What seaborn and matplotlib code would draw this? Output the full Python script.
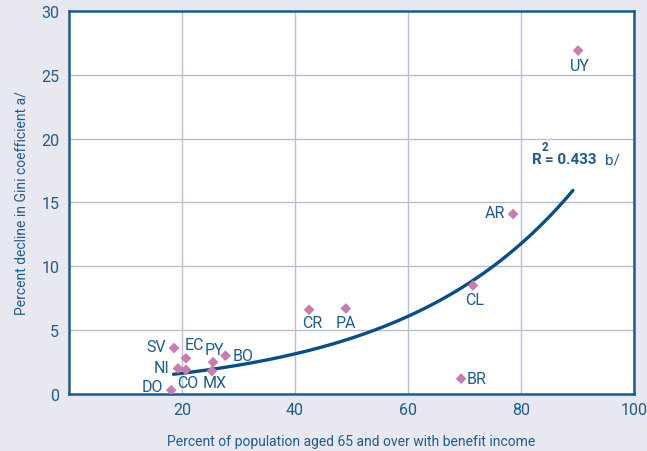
import numpy as np
import matplotlib
matplotlib.use("Agg")
import matplotlib.pyplot as plt
import pandas as pd
import seaborn as sns

# country codes with coverage (x) and Gini decline (y)
countries = ["UY", "AR", "CL", "BR", "CR", "PA", "SV", "EC", "PY", "BO", "NI", "CO", "MX", "DO"]
coverage = [90.1, 78.6, 71.5, 69.4, 42.5, 49.0, 18.6, 20.7, 25.5, 27.7, 19.3, 20.7, 25.3, 18.1]
gini_decline = [26.9, 14.1, 8.5, 1.2, 6.6, 6.7, 3.6, 2.8, 2.5, 3.0, 2.0, 1.9, 1.8, 0.3]

# label offsets (points) and alignment per country
label_dx = [1, -6, 1, 4, 2, 0, -6, -1, 1, 5, -6, 1, 2, -6]
label_dy = [-11, 1, -10, 0, -9, -10, 1, 10, 9, 0, 1, -9, -8, 3]
label_ha = ["center", "right", "center", "left", "center", "center", "right",
            "left", "center", "left", "right", "center", "center", "right"]

# exponential trend
trend_a = 0.84
trend_b = 0.0330
trend_range = (18.5, 89.2)
r_squared = 0.433

BG = "#E8E9F0"
BLUE = "#1E5B8E"
NAVY = "#0B4E85"
PINK = "#C77DAF"
GRID = "#B9BDD5"

df = pd.DataFrame({"country": countries, "x": coverage, "y": gini_decline})

sns.set_style("white")
plt.rcParams["font.family"] = ["Roboto", "DejaVu Sans"]

fig = plt.figure(figsize=(6.47, 4.52), dpi=100, facecolor=BG)
ax = fig.add_axes([0.1066, 0.1261, 0.8733, 0.8474])
ax.set_facecolor("white")

tx = np.linspace(trend_range[0], trend_range[1], 200)
ty = trend_a * np.exp(trend_b * tx)
sns.lineplot(x=tx, y=ty, ax=ax, color=NAVY, linewidth=2.4, zorder=3)

sns.scatterplot(data=df, x="x", y="y", ax=ax, marker="D", s=30, color=PINK,
                edgecolor="none", zorder=4)

for i, row in df.iterrows():
    ax.annotate(row["country"], (row["x"], row["y"]), xytext=(label_dx[i], label_dy[i]),
                textcoords="offset points", ha=label_ha[i], va="center",
                fontsize=11.5, color=BLUE, zorder=5)

# R squared note
ax.annotate("R", (82.0, 18.4), xytext=(0, 0), textcoords="offset points",
            fontsize=11, fontweight="bold", color=BLUE, ha="left", va="center")
ax.annotate("2", (82.0, 18.4), xytext=(6.5, 9), textcoords="offset points",
            fontsize=8.5, fontweight="bold", color=BLUE, ha="left", va="center")
ax.annotate(f"= {r_squared:.3f}", (82.0, 18.4), xytext=(9.5, 0), textcoords="offset points",
            fontsize=11, fontweight="bold", color=BLUE, ha="left", va="center")
ax.annotate("b/", (82.0, 18.4), xytext=(52, 0), textcoords="offset points",
            fontsize=11, color=BLUE, ha="left", va="center")

ax.set_xlim(0, 100)
ax.set_ylim(0, 30)
ax.set_xticks([20, 40, 60, 80, 100])
ax.set_yticks([0, 5, 10, 15, 20, 25, 30])
ax.grid(True, color=GRID, linewidth=1.0)
ax.set_axisbelow(True)
for spine in ax.spines.values():
    spine.set_color(BLUE)
    spine.set_linewidth(1.8)
    spine.set_visible(True)
ax.tick_params(axis="both", length=0, labelsize=11.5, labelcolor=BLUE)
ax.tick_params(axis="y", pad=7)
ax.tick_params(axis="x", pad=6)

ax.set_xlabel("Percent of population aged 65 and over with benefit income",
              fontsize=10, color=BLUE, labelpad=12)
ax.set_ylabel("Percent decline in Gini coefficient a/", fontsize=10, color=BLUE,
              labelpad=9)

fig.savefig("out.png", dpi=100, facecolor=BG)
